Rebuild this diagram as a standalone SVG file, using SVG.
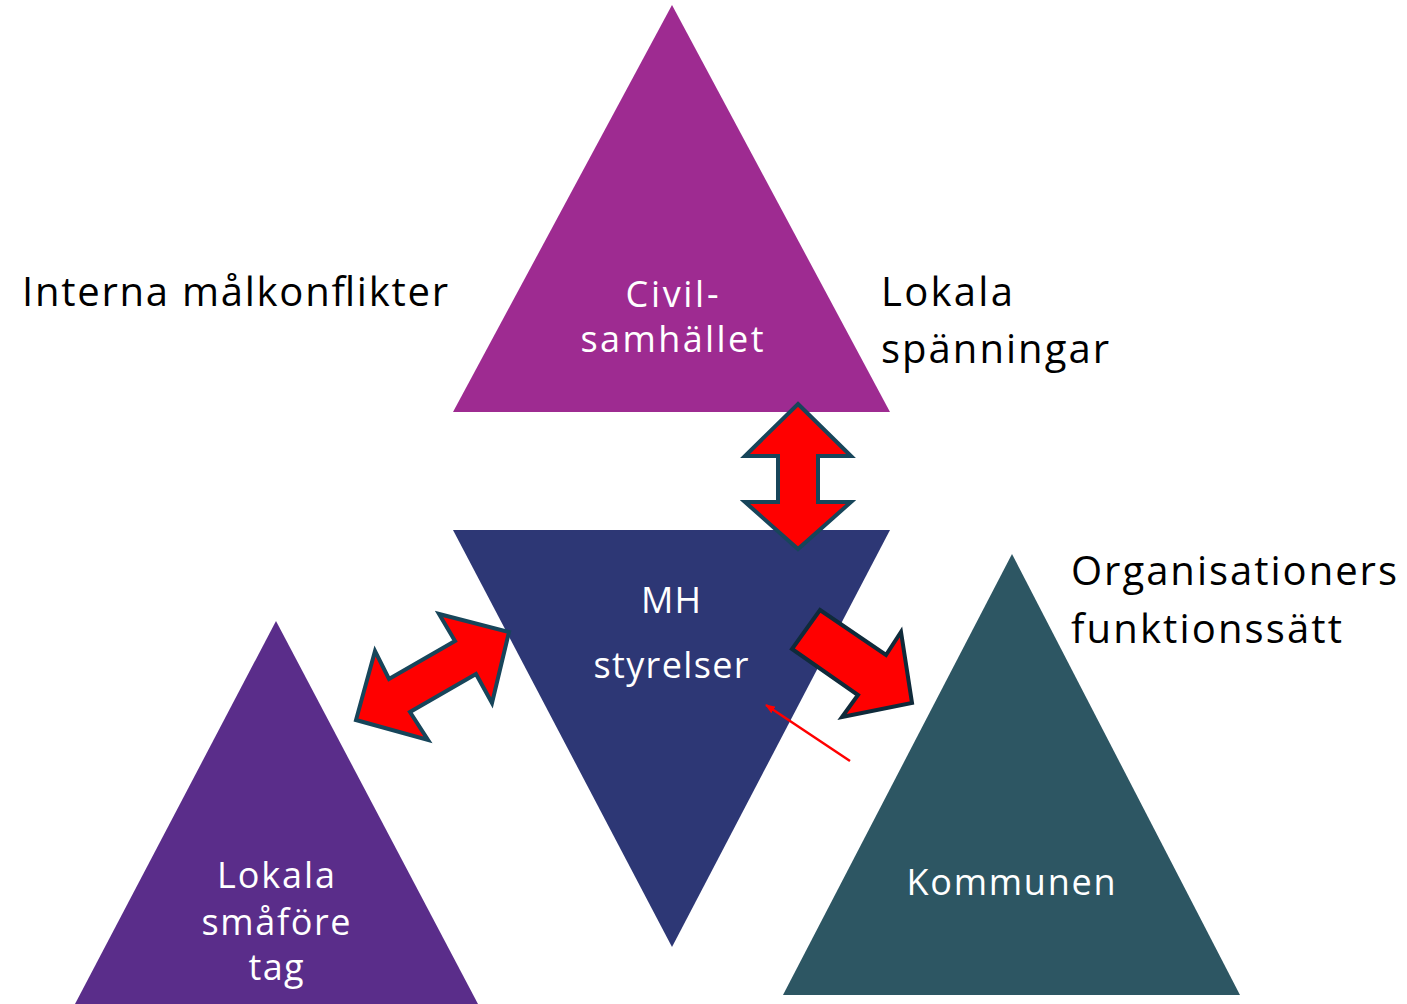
<svg xmlns="http://www.w3.org/2000/svg" width="1407" height="1004" viewBox="0 0 1407 1004">
<style>
.lbl{font-family:"Open Sans","Liberation Sans",Arial,sans-serif;font-size:40px;fill:#000}
.wt{font-family:"Open Sans","Liberation Sans",Arial,sans-serif;font-size:36px;fill:#fff;text-anchor:middle}
.big{fill:#ff0000;stroke:#17455a;stroke-width:4;stroke-linejoin:miter}
</style>
<defs>
<marker id="ah" markerWidth="10" markerHeight="8" refX="9" refY="4" orient="auto" markerUnits="userSpaceOnUse">
<path d="M0,0 L10,4 L0,8 Z" fill="#ff0000"/>
</marker>
</defs>
<rect width="1407" height="1004" fill="#fff"/>
<g id="civil">
<polygon points="672,5 890,412 453,412" fill="#9e2b91"/>
<text class="wt" x="672" y="307" textLength="93">Civil-</text>
<text class="wt" x="672" y="352" textLength="183">samhället</text>
</g>
<g id="mh">
<polygon points="453,530 890,530 672,947" fill="#2d3775"/>
<text class="wt" x="671" y="613" textLength="60">MH</text>
<text class="wt" x="671" y="678" textLength="155">styrelser</text>
</g>
<g id="kommunen">
<polygon points="1012,554 1240,995 783,995" fill="#2d5663"/>
<text class="wt" x="1011" y="895" textLength="209">Kommunen</text>
</g>
<g id="lokala">
<polygon points="276,621 478,1004 75,1004" fill="#5a2d8a"/>
<text class="wt" x="276" y="888" textLength="118">Lokala</text>
<text class="wt" x="276" y="935" textLength="149">småföre</text>
<text class="wt" x="276" y="980" textLength="55">tag</text>
</g>
<g id="labels">
<text class="lbl" x="22" y="306" textLength="426">Interna målkonflikter</text>
<text class="lbl" x="881" y="306" textLength="132">Lokala</text>
<text class="lbl" x="881" y="363" textLength="228">spänningar</text>
<text class="lbl" x="1071" y="585" textLength="326">Organisationers</text>
<text class="lbl" x="1071" y="643" textLength="271">funktionssätt</text>
</g>
<g id="connectors">
<polygon class="big" points="798,404 851,456 818,456 818,502 851,502 798,549 745,502 778,502 778,456 745,456"/>
<polygon class="big" points="509,632 492,703 476,674 410,712 428,740 356,720 375,651 389,679 455,641 439,614"/>
<polygon class="big" points="820,610 886,655 901,632 912,703 842,717 858,695 792,649" style="stroke:#0f2a3a"/>
<line x1="850" y1="761" x2="766" y2="705" stroke="#ff0000" stroke-width="2.5" marker-end="url(#ah)"/>
</g>
</svg>
